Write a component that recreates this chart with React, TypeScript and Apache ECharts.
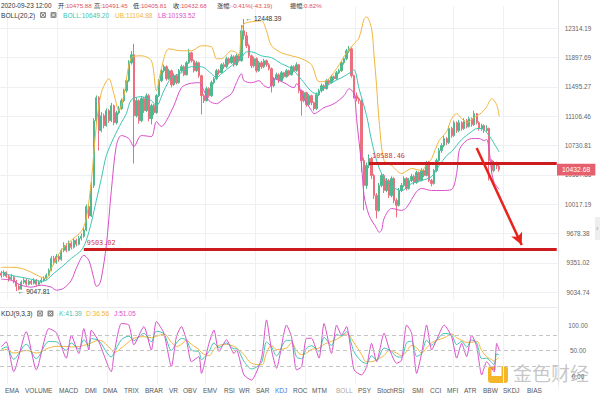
import React, { useEffect, useRef } from 'react';
import * as echarts from 'echarts';

// ---------- data ----------
// candles: [open, close, low, high]
const candles: number[][] = [
  [9240,9216,9190,9262],[9216,9249,9200,9270],[9249,9206,9188,9258],[9206,9174,9150,9221],[9174,9195,9160,9230],
  [9195,9152,9131,9210],[9152,9099,9047.81,9166],[9099,9068,9055,9120],[9068,9142,9060,9160],[9142,9163,9125,9185],
  [9163,9120,9102,9178],[9120,9152,9108,9170],[9152,9131,9112,9168],[9131,9163,9118,9184],[9163,9120,9098,9175],
  [9120,9142,9105,9160],[9142,9163,9130,9190],[9163,9184,9150,9205],[9184,9216,9170,9236],[9216,9270,9205,9290],
  [9270,9401,9260,9425],[9401,9357,9330,9430],[9357,9423,9340,9450],[9423,9390,9365,9445],[9390,9490,9375,9510],
  [9490,9546,9470,9580],[9546,9490,9468,9570],[9490,9568,9480,9600],[9568,9524,9500,9590],[9524,9602,9510,9630],
  [9602,9557,9535,9620],[9557,9625,9545,9650],[9625,9647,9600,9680],[9647,9720,9630,9745],[9720,9990,9705,10015],
  [9990,9880,9850,10020],[9880,10240,9870,10290],[10240,11049,10210,11080],[11049,11351,11000,11380],[11351,10921,10668,11370],
  [10921,11114,10900,11160],[11114,10985,10950,11140],[10985,11179,10970,11210],[11179,11049,11020,11200],[11049,11245,11030,11280],
  [11245,11023,10990,11260],[11023,11153,11000,11180],[11153,11205,11130,11240],[11205,11311,11190,11340],[11311,11444,11290,11470],
  [11444,11579,11420,11610],[11579,11825,11560,11860],[11825,11936,11800,11990],[11936,11114,10507,12091],[11114,11311,11090,11350],
  [11311,11049,11010,11330],[11049,11338,11030,11370],[11338,11179,11150,11360],[11179,11378,11160,11410],[11378,11075,11040,11400],
  [11075,11245,11000,11270],[11245,11153,11120,11270],[11153,11378,11140,11400],[11378,11579,11360,11600],[11579,11715,11560,11740],
  [11715,11770,11690,11800],[11770,11606,11580,11790],[11606,11715,11590,11740],[11715,11525,11490,11730],[11525,11647,11510,11680],
  [11647,11552,11530,11670],[11552,11715,11540,11740],[11715,11770,11690,11800],[11770,11660,11640,11790],[11660,11825,11650,11850],
  [11825,11964,11810,12020],[11964,11853,11830,11980],[11853,11715,11690,11870],[11715,11825,11700,11850],[11825,11647,11620,11840],
  [11647,11378,11130,11660],[11378,11311,11280,11400],[11311,11471,11300,11500],[11471,11378,11350,11490],[11378,11552,11360,11580],
  [11552,11606,11530,11630],[11606,11715,11590,11740],[11715,11687,11660,11740],[11687,11798,11670,11820],[11798,11770,11740,11830],
  [11770,11881,11750,11910],[11881,11825,11800,11900],[11825,11908,11810,11940],[11908,11798,11770,11930],[11798,11922,11780,11950],
  [11922,11853,11830,11950],[11853,12277,11840,12360],[12277,12206,12150,12448.39],[12206,12063,12030,12260],[12063,11922,11890,12090],
  [11922,11784,11750,11940],[11784,11881,11760,11910],[11881,11715,11690,11900],[11715,11825,11700,11850],[11825,11770,11740,11850],
  [11770,11853,11750,11880],[11853,11798,11770,11870],[11798,11743,11720,11820],[11743,11511,11420,11760],[11511,11606,11490,11630],
  [11606,11660,11590,11690],[11660,11579,11550,11680],[11579,11687,11560,11710],[11687,11633,11610,11700],[11633,11715,11620,11740],
  [11715,11660,11640,11730],[11660,11770,11650,11790],[11770,11715,11700,11790],[11715,11798,11700,11830],[11798,11444,11410,11810],
  [11444,11311,11114,11460],[11311,11417,11290,11440],[11417,11258,11230,11430],[11258,11378,11240,11400],[11378,11285,11250,11390],
  [11285,11205,11179,11300],[11205,11391,11190,11420],[11391,11444,11370,11470],[11444,11511,11420,11540],[11511,11471,11440,11530],
  [11471,11579,11460,11600],[11579,11552,11520,11600],[11552,11633,11540,11660],[11633,11606,11580,11650],[11606,11687,11590,11710],
  [11687,11715,11670,11740],[11715,11825,11700,11850],[11825,11881,11800,11910],[11881,11992,11860,12020],[11992,12020,11960,12060],
  [12020,11647,11620,12040],[11647,11378,11340,11660],[11378,11338,11300,11420],[11338,11311,11270,11360],[11311,10544,10400,11330],
  [10544,10240,9945,10580],[10240,10483,10200,10520],[10483,10569,10450,10620],[10569,10361,10320,10590],[10361,10121,10080,10380],
  [10121,9945,9852,10150],[9945,10240,9930,10270],[10240,10361,10220,10390],[10361,10180,10150,10380],[10180,10300,10160,10330],
  [10300,10121,10090,10320],[10121,10324,10100,10350],[10324,10062,10030,10340],[10062,10004,9864,10090],[10004,10180,9990,10210],
  [10180,10240,10160,10270],[10240,10324,10220,10350],[10324,10204,10180,10340],[10204,10300,10190,10330],[10300,10348,10280,10380],
  [10348,10276,10250,10370],[10276,10397,10260,10420],[10397,10300,10280,10410],[10300,10421,10290,10450],[10421,10361,10340,10440],
  [10361,10520,10350,10540],[10520,10300,10280,10540],[10300,10264,10230,10320],[10264,10421,10250,10440],[10421,10544,10400,10570],
  [10544,10668,10530,10700],[10668,10731,10640,10760],[10731,10819,10710,10850],[10819,10769,10740,10840],[10769,10947,10750,10980],
  [10947,10858,10830,10970],[10858,11023,10840,11050],[11023,10921,10890,11040],[10921,11023,10900,11060],[11023,10947,10920,11040],
  [10947,11049,10930,11080],[11049,10972,10950,11070],[10972,11075,10960,11100],[11075,10998,10970,11090],[10998,11140,10980,11179],
  [11140,11023,11000,11150],[11023,10947,10920,11040],[10947,10985,10920,11010],[10985,10921,10890,11000],[10921,10947,10900,10990],
  [10947,10544,10300,10960],[10544,10421,10390,10560],[10421,10507,10400,10540],[10507,10475.88,10440,10530],[10475.88,10432.68,10405.81,10491.45],
];
const EMPTY_SLOTS = 23;
const LAST_TIME_UTC = Date.UTC(2020, 8, 23, 12, 0);
const STEP_HOURS = 8;

const priceTickLabels = ['9034.74','9351.02','9678.38','10017.19','10367.86','10730.81','11106.46','11495.27','11897.69','12314.19'];
const PRICE_BASE = 9034.74;
const PRICE_TOP = 12314.19;

// BOLL bands: [candle index, price]
const bollUpper: number[][] = [
  [0,9303],[4,9303],[8,9292],[12,9249],[16,9195],[18,9184],[20,9292],[24,9490],[28,9602],[32,9704],[34,9852],[36,10300],
  [38,10985],[40,11417],[43,11606],[45,11404],[47,11179],[49,11378],[52,11895],[56,11922],[60,11853],[62,11444],[64,11743],
  [67,12020],[72,11992],[76,11992],[80,12063],[84,12049],[86,11881],[88,11881],[92,11992],[94,11964],[95,11922],[96,12277],
  [97,12378],[100,12407],[104,12421],[106,12277],[108,12063],[112,11964],[116,11922],[120,11881],[124,11798],[127,11565],
  [130,11579],[134,11743],[138,11964],[141,12091],[143,12177],[145,12450],[146,12479],[148,12306],[149,11922],[150,11511],
  [151,11049],[153,10544],[156,10483],[160,10385],[164,10446],[168,10421],[170,10495],[172,10569],[175,10794],[178,10908],
  [180,11075],[182,11140],[184,11075],[186,11023],[189,11088],[192,11153],[194,11232],[196,11338],[198,11258],[199,11104.88],
];
const bollMid: number[][] = [
  [0,9249],[4,9216],[8,9195],[12,9174],[16,9152],[18,9163],[21,9238],[24,9303],[28,9401],[32,9490],[34,9602],[36,9806],
  [38,10062],[40,10324],[42,10606],[45,10832],[48,11023],[50,11140],[52,11324],[56,11364],[60,11311],[62,11245],[65,11444],
  [68,11620],[72,11687],[76,11770],[80,11770],[84,11674],[86,11620],[88,11674],[92,11784],[96,11895],[98,11978],[100,11978],
  [104,11922],[108,11895],[112,11812],[116,11743],[120,11593],[124,11431],[126,11404],[128,11458],[132,11552],[136,11620],
  [140,11701],[141,11729],[143,11471],[146,11114],[148,10794],[150,10544],[152,10385],[154,10300],[156,10228],[160,10180],
  [164,10264],[168,10300],[172,10348],[175,10483],[178,10606],[180,10656],[184,10807],[188,10908],[190,10947],[192,10947],
  [194,10896],[196,10807],[199,10649.2],
];
const bollLower: number[][] = [
  [0,9174],[4,9163],[8,9110],[12,9089],[16,9110],[20,9089],[22,9057],[25,9078],[28,9163],[30,9292],[33,9435],[35,9379],
  [37,9184],[38,9099],[39,9110],[40,9184],[42,9546],[44,10180],[46,10731],[48,10858],[51,10819],[53,10718],[56,10858],
  [60,10845],[62,11036],[64,10972],[66,11049],[69,11245],[72,11484],[75,11538],[79,11552],[81,11444],[83,11311],[86,11271],
  [89,11338],[92,11404],[94,11552],[96,11674],[97,11579],[100,11552],[103,11579],[105,11511],[107,11484],[109,11606],
  [113,11552],[117,11484],[118,11538],[121,11338],[124,11179],[125,11140],[129,11219],[133,11271],[137,11378],[139,11471],
  [141,11404],[142,11075],[144,10483],[145,10121],[147,9887],[150,9738],[151,9693],[152,9715],[153,9852],[156,9968],
  [160,9945],[162,9980],[166,10168],[168,10204],[172,10180],[176,10180],[180,10192],[182,10385],[183,10668],[185,10769],
  [188,10819],[191,10819],[193,10794],[194,10807],[195,10668],[196,10397],[197,10276],[199,10193.52],
];

// KDJ(9,3,3): candle index, J and D (K from the KDJ identity J = 3K - 2D)
const kdjIndex = [0,2,5,10,14,19,22,26,28,31,33,35,36,39,44,45,48,51,53,57,60,62,65,68,70,72,74,76,79,80,83,85,87,90,93,94,97,100,104,106,108,110,114,116,118,120,122,124,127,129,132,134,136,138,141,144,146,148,150,153,155,158,160,162,164,166,168,170,172,174,177,180,182,184,186,188,190,192,194,196,197,198,199];
const kdjJ = [57.5,67,8.5,87,12,93,85,35,80,44,93,51,90,67,8.5,41,103,100,61,97,51,107,84,18,77,97,71,28,38,5,64,90,48,71,44,51,2,-8,35,110,51,15,100,77,12,18,74,74,35,103,44,100,80,97,12,2,18,64,28,84,54,25,31,100,84,5,44,100,51,71,100,77,35,64,38,80,58,2,28,15,8,64,51.05];
const kdjD = [50,52,45,50,45,55,58,58,57,58,60,63,65,70,52,46,55,67,74,77,75,78,82,66,58,62,70,62,52,46,40,52,60,62,58,55,42,25,22,45,60,52,55,65,50,42,45,52,55,62,68,72,78,82,65,42,28,28,32,40,50,45,40,48,60,55,45,55,65,70,75,82,75,70,66,66,68,50,38,32,29,33,36.56];
const kdjLevels = [20, 50, 80];
const kdjTickLabels = [0, 50, 100];

// drawn annotations
const drawnLevels = [
  { startIndex: 147, price: 10514, text: '10588.46' },
  { startIndex: 33, price: 9503.02, text: '9503.02' },
];
const arrowFrom = [190, 10700];
const arrowTo = [208, 9550];
const extremes = [
  { index: 97, price: 12448.39 },
  { index: 6, price: 9047.81 },
];
const headerChange = '-0.41%(-43.19)';
const headerAmplitude = '0.82%';
const weekLineSlots = [3, 23, 43, 63, 82, 102, 122, 142, 161, 181, 201];
const tabNames = ['EMA','VOLUME','MACD','DMI','DMA','TRIX','BRAR','VR','OBV','EMV','RSI','WR','SAR','KDJ','ROC','MTM','BOLL','PSY','StochRSI','SMI','CCI','MFI','ATR','BBW','SKDJ','BIAS'];
const tabX = [5,25,59,85,103,124,145,169,183,203,224,239,256,275,293,312,336,358,377,412,430,447,464,483,503,527];

// ---------- helpers ----------
const FONT = '"Liberation Sans", Arial, "Noto Sans CJK SC", sans-serif';
const MONO = '"DejaVu Sans Mono", "Liberation Mono", monospace';
const UP = '#4fb88e';
const DOWN = '#ec6f7e';
const C_UB = '#f2b53a';
const C_MID = '#3ec4b2';
const C_LB = '#d84fca';
const C_RED_VAL = '#e2505e';
const LOG_R = Math.log(PRICE_TOP / PRICE_BASE) / 9;
const toU = (p: number) => Math.log(p / PRICE_BASE) / LOG_R;

const pad2 = (n: number) => String(n).padStart(2, '0');
const fmtTime = (t: number) => {
  const d = new Date(t);
  return `${d.getUTCFullYear()}-${pad2(d.getUTCMonth() + 1)}-${pad2(d.getUTCDate())} ${pad2(d.getUTCHours())}:${pad2(d.getUTCMinutes())}`;
};
const categories = Array.from({ length: candles.length + EMPTY_SLOTS }, (_, i) =>
  fmtTime(LAST_TIME_UTC + (i - (candles.length - 1)) * STEP_HOURS * 3600 * 1000)
);

function buildOption() {
  const last = candles[candles.length - 1];
  const lastClose = last[1];
  const f = (n: number) => n.toFixed(2);
  const font = (s: number) => `${s}px ${FONT}`;
  const kVals = kdjJ.map((j, n) => (j + 2 * kdjD[n]) / 3);

  const txt = (x: number, y: number, text: string, fill: string, size = 6.6, z = 50) => ({
    type: 'text', x, y, z, silent: true,
    style: { text, fill, font: font(size), verticalAlign: 'middle' },
  });
  const pair = (x: number, y: number, label: string, value: string) => ({
    type: 'text', x, y, z: 50, silent: true,
    style: {
      text: `{l|${label}}{v|${value}}`, verticalAlign: 'middle', font: font(6.2),
      rich: { l: { fill: '#333', font: font(6.2) }, v: { fill: C_RED_VAL, font: font(6.2) } },
    },
  });
  const gearIcon = (x: number, y: number) => ({
    type: 'group', x, y, z: 50, silent: true,
    children: [
      { type: 'rect', shape: { x: 0, y: 0, width: 6, height: 6, r: 1 }, style: { fill: '#8d8d8d' } },
      { type: 'circle', shape: { cx: 3, cy: 3, r: 1.6 }, style: { fill: 'none', stroke: '#fff', lineWidth: 0.9 } },
    ],
  });
  const closeIcon = (x: number, y: number) => ({
    type: 'group', x, y, z: 50, silent: true,
    children: [
      { type: 'rect', shape: { x: 0, y: 0, width: 6, height: 6, r: 1 }, style: { fill: '#8d8d8d' } },
      { type: 'line', shape: { x1: 1.6, y1: 1.6, x2: 4.4, y2: 4.4 }, style: { stroke: '#fff', lineWidth: 0.9 } },
      { type: 'line', shape: { x1: 4.4, y1: 1.6, x2: 1.6, y2: 4.4 }, style: { stroke: '#fff', lineWidth: 0.9 } },
    ],
  });

  const graphic: any[] = [
    // header line 1
    txt(1, 5, fmtTime(LAST_TIME_UTC), '#333', 6.4),
    pair(58, 5, '开:', f(last[0])),
    pair(94, 5, '高:', f(last[3])),
    pair(133, 5, '低:', f(last[2])),
    pair(173, 5, '收:', f(lastClose)),
    pair(217, 5, '涨幅:', headerChange),
    pair(290, 5, '振幅:', headerAmplitude),
    // header line 2
    txt(1, 15, 'BOLL(20,2)', '#333'),
    gearIcon(40, 12), closeIcon(50.5, 12),
    txt(63, 15, 'BOLL:' + f(bollMid[bollMid.length - 1][1]), C_MID),
    txt(115, 15, 'UB:' + f(bollUpper[bollUpper.length - 1][1]), C_UB),
    txt(158, 15, 'LB:' + f(bollLower[bollLower.length - 1][1]), C_LB),
    // KDJ header
    txt(1, 313.5, 'KDJ(9,3,3)', '#333'),
    gearIcon(37, 310.5), closeIcon(47.5, 310.5),
    txt(59, 313.5, 'K:' + f(kVals[kVals.length - 1]), C_MID),
    txt(86, 313.5, 'D:' + f(kdjD[kdjD.length - 1]), C_UB),
    txt(114, 313.5, 'J:' + f(kdjJ[kdjJ.length - 1]), C_LB),
    // separators
    { type: 'line', z: 1, silent: true, shape: { x1: 0, y1: 307.5, x2: 558, y2: 307.5 }, style: { stroke: '#e8eaed', lineWidth: 1 } },
    { type: 'line', z: 1, silent: true, shape: { x1: 558.5, y1: 0, x2: 558.5, y2: 384 }, style: { stroke: '#e3e5e8', lineWidth: 1 } },
    // bottom tab bar background
    { type: 'rect', z: 40, silent: true, shape: { x: 0, y: 384, width: 558, height: 12 }, style: { fill: '#fff' } },
    // right handle
    { type: 'rect', z: 40, silent: true, shape: { x: 595, y: 217, width: 5, height: 23 }, style: { fill: '#eeeeee' } },
    txt(596, 228.5, '›', '#999', 7),
    // watermark
    {
      type: 'group', z: 60, silent: true,
      children: [
        { type: 'rect', shape: { x: 488, y: 366, width: 20, height: 17, r: 3 }, style: { fill: '#f5b21f', opacity: 0.95 } },
        { type: 'rect', shape: { x: 491.5, y: 366, width: 10, height: 10 }, style: { fill: '#fff' } },
        { type: 'rect', shape: { x: 491.5, y: 366, width: 4, height: 4 }, style: { fill: '#f5b21f' } },
        { type: 'text', x: 513, y: 372, style: { text: '金色财经', fill: 'rgba(150,150,150,0.55)', font: '19px "Noto Sans CJK SC", sans-serif', verticalAlign: 'middle' } },
      ],
    },
  ];
  tabNames.forEach((name, n) => {
    const color = name === 'KDJ' ? '#3b7ddd' : name === 'BOLL' ? '#aaaaaa' : '#555';
    graphic.push(txt(tabX[n], 390, name, color, 6.5, 45));
  });

  const gridLine = { color: '#eef1f4', width: 1 };
  const xAxisCommon = {
    type: 'category', data: categories, boundaryGap: true,
    axisLine: { show: false }, axisTick: { show: false }, axisLabel: { show: false },
    splitLine: { show: true, interval: (idx: number) => weekLineSlots.includes(idx), lineStyle: gridLine },
  };
  const seriesLine = (name: string, data: number[][], color: string, xi: number, smooth = 0.3, extra: any = {}) => ({
    name, type: 'line', xAxisIndex: xi, yAxisIndex: xi, data, smooth, showSymbol: false, symbol: 'none',
    lineStyle: { color, width: 1 }, itemStyle: { color }, silent: true, ...extra,
  });

  return {
    animation: false,
    backgroundColor: '#ffffff',
    grid: [
      { left: 0, right: 42, top: 6.2, bottom: 96.4 },
      { left: 0, right: 42, top: 312.25, bottom: 7.25 },
    ],
    xAxis: [
      { ...xAxisCommon, gridIndex: 0 },
      { ...xAxisCommon, gridIndex: 1 },
    ],
    yAxis: [
      {
        type: 'value', gridIndex: 0, position: 'right', min: -0.25, max: 9.75, interval: 0.25,
        axisLine: { show: false }, axisTick: { show: false },
        splitLine: { show: true, lineStyle: { color: ['rgba(0,0,0,0)', '#eef1f4', 'rgba(0,0,0,0)', 'rgba(0,0,0,0)'], width: 1 } },
        axisLabel: {
          margin: 20, align: 'center', color: '#666', fontSize: 6.4, fontFamily: FONT,
          formatter: (v: number) => {
            const r = Math.round(v);
            return Math.abs(v - r) < 1e-6 && r >= 0 && r < priceTickLabels.length ? priceTickLabels[r] : '';
          },
        },
      },
      {
        type: 'value', gridIndex: 1, position: 'right', min: -25, max: 125, interval: 25,
        axisLine: { show: false }, axisTick: { show: false }, splitLine: { show: false },
        axisLabel: {
          margin: 20, align: 'center', color: '#666', fontSize: 6.4, fontFamily: FONT,
          formatter: (v: number) => (kdjTickLabels.includes(Math.round(v)) && Math.abs(v - Math.round(v)) < 1e-6 ? v.toFixed(2) : ''),
        },
      },
    ],
    series: [
      {
        name: 'K线', type: 'candlestick', xAxisIndex: 0, yAxisIndex: 0,
        data: candles.map((r) => r.map(toU)),
        barWidth: 1.8, silent: true,
        itemStyle: { color: UP, color0: DOWN, borderColor: UP, borderColor0: DOWN, borderWidth: 1 },
      },
      seriesLine('UB', bollUpper.map(([i, p]) => [i, toU(p)]), C_UB, 0),
      seriesLine('BOLL', bollMid.map(([i, p]) => [i, toU(p)]), C_MID, 0),
      seriesLine('LB', bollLower.map(([i, p]) => [i, toU(p)]), C_LB, 0),
      {
        name: 'annotations', type: 'line', xAxisIndex: 0, yAxisIndex: 0, data: [], silent: true, z: 5,
        markLine: {
          silent: true, animation: false, symbol: ['none', 'none'], precision: 4,
          data: [
            ...drawnLevels.map((lv) => [
              {
                coord: [lv.startIndex, toU(lv.price)],
                lineStyle: { color: '#cc1b1f', width: 3, type: 'solid' },
                label: {
                  show: true, position: 'insideStartTop', formatter: lv.text, color: '#d0373c',
                  fontFamily: MONO, fontSize: 6.8, distance: 3,
                },
              },
              { coord: [categories.length - 1, toU(lv.price)] },
            ]),
            [
              {
                coord: [arrowFrom[0], toU(arrowFrom[1])],
                lineStyle: { color: '#e8231c', width: 2.5, type: 'solid' },
                label: { show: false },
              },
              { coord: [arrowTo[0], toU(arrowTo[1])], symbol: 'arrow', symbolSize: [9, 12] },
            ],
            {
              yAxis: toU(lastClose),
              lineStyle: { color: 'rgba(0,0,0,0)', width: 1, type: 'solid' },
              label: {
                show: true, position: 'end', formatter: f(lastClose), color: '#fff',
                backgroundColor: '#e5606c', padding: [3, 5, 2, 5], fontSize: 6.8, fontFamily: FONT, distance: -1,
              },
            },
          ],
        },
        markPoint: {
          silent: true, animation: false, symbol: 'circle', symbolSize: 1,
          itemStyle: { color: 'rgba(0,0,0,0)' },
          data: extremes.map((e) => ({ coord: [e.index, toU(e.price)], value: e.price })),
          label: {
            show: true, position: 'right', distance: 1, color: '#333', fontSize: 6.6, fontFamily: FONT,
            formatter: (p: any) => '← ' + Number(p.value).toFixed(2),
          },
        },
      },
      seriesLine('D', kdjIndex.map((i, n) => [i, kdjD[n]]), C_UB, 1, 0.4, {
        markLine: {
          silent: true, animation: false, symbol: ['none', 'none'], label: { show: false },
          lineStyle: { color: '#c4c4c4', type: [4, 3], width: 1 },
          data: kdjLevels.map((v) => ({ yAxis: v })),
        },
      }),
      seriesLine('K', kdjIndex.map((i, n) => [i, kVals[n]]), C_MID, 1, 0.3),
      seriesLine('J', kdjIndex.map((i, n) => [i, kdjJ[n]]), C_LB, 1, 0.2),
    ],
    graphic,
  };
}

export default function App() {
  const ref = useRef<HTMLDivElement>(null);
  useEffect(() => {
    if (!ref.current) return;
    const chart = echarts.init(ref.current, undefined, { renderer: 'svg' });
    chart.setOption(buildOption() as any);
    return () => chart.dispose();
  }, []);
  return (
    <div
      ref={ref}
      style={{ position: 'fixed', left: 0, top: 0, width: 600, height: 396, background: '#fff' }}
    />
  );
}
